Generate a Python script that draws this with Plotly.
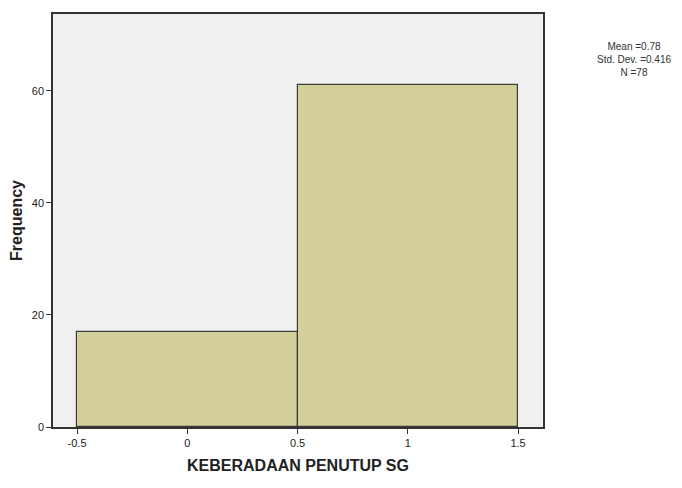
import plotly.graph_objects as go

bin_centers = [0, 1]
frequencies = [17, 61]
x_ticks = [-0.5, 0, 0.5, 1, 1.5]
y_ticks = [0, 20, 40, 60]
stats_text = "Mean =0.78<br>Std. Dev. =0.416<br>N =78"

fig = go.Figure()
fig.add_trace(go.Bar(
    x=bin_centers, y=frequencies, width=[1, 1],
    marker=dict(color="#d3cf98", line=dict(color="#3c3c3c", width=1.2)),
    showlegend=False,
))

fig.update_layout(
    width=666, height=470,
    margin=dict(l=45, r=131, t=4, b=51),
    paper_bgcolor="white",
    plot_bgcolor="#f0f0f0",
    font=dict(family="Liberation Sans, Arial, sans-serif", color="#222", size=11),
    bargap=0,
    xaxis=dict(
        range=[-0.609, 1.613], tickvals=x_ticks,
        ticktext=["-0.5", "0", "0.5", "1", "1.5"],
        ticks="outside", ticklen=5, tickcolor="#333",
        showgrid=False, zeroline=False,
        showline=True, linecolor="#333", linewidth=1.5, mirror=True,
        title=dict(text="<b>KEBERADAAN PENUTUP SG</b>", font=dict(size=16), standoff=12),
    ),
    yaxis=dict(
        range=[0, 73.7], tickvals=y_ticks,
        ticks="outside", ticklen=5, tickcolor="#333",
        showgrid=False, zeroline=False,
        showline=True, linecolor="#333", linewidth=1.5, mirror=True,
        title=dict(text="<b>Frequency</b>", font=dict(size=16), standoff=8),
    ),
    annotations=[dict(
        text=stats_text, xref="paper", yref="paper",
        x=1.185, y=0.94, xanchor="center", yanchor="top",
        showarrow=False, align="center",
        font=dict(size=10, color="#333"),
    )],
)

fig.write_html("out.html")
